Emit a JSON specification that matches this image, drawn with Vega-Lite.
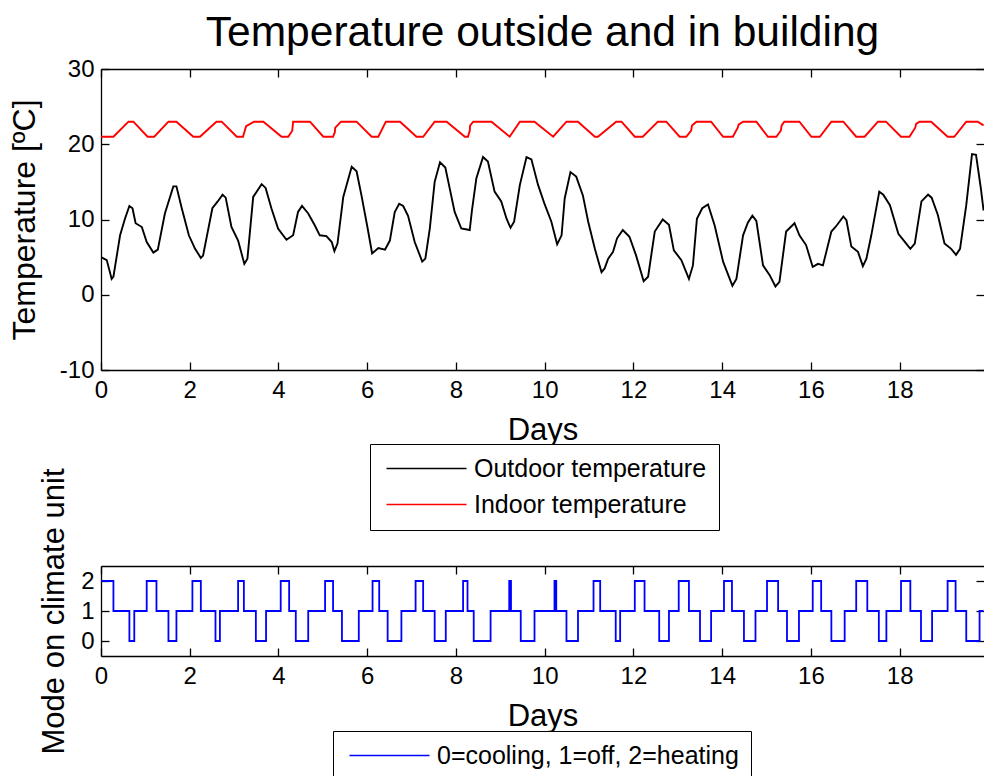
{
  "$schema": "https://vega.github.io/schema/vega-lite/v6.json",
  "padding": {"left": 8, "top": 11, "right": 0, "bottom": 0},
  "spacing": 196,
  "bounds": "flush",
  "resolve": {"scale": {"color": "independent"}, "legend": {"color": "independent"}},
  "config": {
    "view": {"stroke": null},
    "font": "Liberation Sans",
    "axis": {
      "domainColor": "#000000", "tickColor": "#000000", "labelColor": "#000000", "titleColor": "#000000",
      "labelFont": "Liberation Sans", "titleFont": "Liberation Sans", "labelFontSize": 24, "titleFontSize": 31,
      "titleFontWeight": "normal", "grid": false, "domainWidth": 1.3, "tickWidth": 1.3, "minExtent": 0,
      "labelFlush": false, "labelExpr": "replace(datum.label, '\u2212', '-')"
    }
  },
  "datasets": {
    "outdoor": [
      {"d":0,"t":5.0},{"d":0.13,"t":4.6},{"d":0.24,"t":2.1},{"d":0.28,"t":2.4},{"d":0.43,"t":7.9},{"d":0.54,"t":10.1},{"d":0.64,"t":11.8},{"d":0.71,"t":11.5},{"d":0.78,"t":9.5},{"d":0.92,"t":9.0},
      {"d":1.03,"t":7.0},{"d":1.18,"t":5.6},{"d":1.28,"t":6.0},{"d":1.44,"t":10.8},{"d":1.63,"t":14.4},{"d":1.70,"t":14.4},{"d":1.82,"t":11.5},{"d":1.98,"t":7.9},{"d":2.12,"t":6.1},{"d":2.25,"t":4.9},
      {"d":2.30,"t":5.2},{"d":2.51,"t":11.5},{"d":2.63,"t":12.4},{"d":2.74,"t":13.3},{"d":2.81,"t":12.9},{"d":2.94,"t":9.0},{"d":3.09,"t":7.2},{"d":3.23,"t":4.1},{"d":3.30,"t":4.8},{"d":3.43,"t":13.0},
      {"d":3.62,"t":14.7},{"d":3.71,"t":14.2},{"d":3.84,"t":11.5},{"d":3.99,"t":8.8},{"d":4.18,"t":7.3},{"d":4.33,"t":7.9},{"d":4.44,"t":11.0},{"d":4.53,"t":11.8},{"d":4.67,"t":10.8},{"d":4.82,"t":9.2},
      {"d":4.93,"t":7.9},{"d":5.08,"t":7.8},{"d":5.20,"t":7.0},{"d":5.26,"t":5.8},{"d":5.33,"t":6.8},{"d":5.46,"t":13.0},{"d":5.65,"t":17.0},{"d":5.76,"t":16.4},{"d":5.87,"t":13.2},{"d":6.01,"t":8.8},
      {"d":6.11,"t":5.5},{"d":6.25,"t":6.2},{"d":6.40,"t":6.0},{"d":6.51,"t":7.2},{"d":6.62,"t":11.0},{"d":6.72,"t":12.1},{"d":6.81,"t":11.8},{"d":6.92,"t":10.5},{"d":7.07,"t":7.0},{"d":7.24,"t":4.4},
      {"d":7.31,"t":4.8},{"d":7.41,"t":8.8},{"d":7.52,"t":15.0},{"d":7.64,"t":17.6},{"d":7.76,"t":16.9},{"d":7.86,"t":14.1},{"d":7.97,"t":11.0},{"d":8.12,"t":8.8},{"d":8.31,"t":8.6},{"d":8.36,"t":11.2},
      {"d":8.46,"t":15.5},{"d":8.61,"t":18.3},{"d":8.72,"t":17.7},{"d":8.87,"t":13.7},{"d":9.02,"t":12.4},{"d":9.14,"t":10.1},{"d":9.23,"t":8.9},{"d":9.31,"t":9.7},{"d":9.44,"t":14.6},{"d":9.59,"t":18.3},
      {"d":9.70,"t":18.0},{"d":9.85,"t":14.6},{"d":10.0,"t":12.0},{"d":10.15,"t":9.7},{"d":10.28,"t":6.7},{"d":10.38,"t":7.9},{"d":10.45,"t":12.8},{"d":10.58,"t":16.3},{"d":10.71,"t":15.7},{"d":10.86,"t":13.2},
      {"d":10.98,"t":9.7},{"d":11.13,"t":6.1},{"d":11.28,"t":3.0},{"d":11.35,"t":3.5},{"d":11.43,"t":4.8},{"d":11.54,"t":5.7},{"d":11.63,"t":7.5},{"d":11.76,"t":8.6},{"d":11.91,"t":7.7},{"d":12.06,"t":5.2},
      {"d":12.23,"t":1.8},{"d":12.33,"t":2.4},{"d":12.48,"t":8.4},{"d":12.66,"t":10.0},{"d":12.80,"t":9.3},{"d":12.91,"t":5.9},{"d":13.08,"t":4.6},{"d":13.25,"t":2.1},{"d":13.34,"t":3.9},{"d":13.43,"t":10.1},
      {"d":13.55,"t":11.5},{"d":13.68,"t":12.0},{"d":13.83,"t":9.2},{"d":14.02,"t":4.4},{"d":14.23,"t":1.2},{"d":14.32,"t":2.1},{"d":14.47,"t":7.9},{"d":14.58,"t":9.6},{"d":14.68,"t":10.5},{"d":14.77,"t":9.8},
      {"d":14.92,"t":3.9},{"d":15.07,"t":2.6},{"d":15.20,"t":1.1},{"d":15.29,"t":1.7},{"d":15.44,"t":8.4},{"d":15.63,"t":9.5},{"d":15.74,"t":7.9},{"d":15.89,"t":6.6},{"d":16.04,"t":3.7},{"d":16.16,"t":4.1},
      {"d":16.27,"t":3.9},{"d":16.46,"t":8.4},{"d":16.58,"t":9.2},{"d":16.73,"t":10.4},{"d":16.80,"t":9.9},{"d":16.91,"t":6.4},{"d":17.06,"t":5.7},{"d":17.17,"t":3.8},{"d":17.25,"t":4.8},{"d":17.36,"t":7.9},
      {"d":17.54,"t":13.7},{"d":17.63,"t":13.3},{"d":17.78,"t":11.9},{"d":17.97,"t":8.1},{"d":18.12,"t":7.0},{"d":18.24,"t":6.1},{"d":18.34,"t":6.8},{"d":18.49,"t":12.4},{"d":18.64,"t":13.3},{"d":18.72,"t":12.9},
      {"d":18.86,"t":10.6},{"d":19.01,"t":6.8},{"d":19.16,"t":6.1},{"d":19.27,"t":5.3},{"d":19.36,"t":6.1},{"d":19.50,"t":11.9},{"d":19.63,"t":18.7},{"d":19.72,"t":18.6},{"d":19.83,"t":14.1},{"d":19.89,"t":11.2}
    ],
    "indoor": [
      {"d":0,"t":21},{"d":0.28,"t":21},{"d":0.62,"t":23},{"d":0.73,"t":23},{"d":1.05,"t":21},{"d":1.2,"t":21},{"d":1.52,"t":23},{"d":1.7,"t":23},{"d":2.08,"t":21},{"d":2.23,"t":21},
      {"d":2.6,"t":23},{"d":2.72,"t":23},{"d":3.06,"t":21},{"d":3.2,"t":21},{"d":3.25,"t":22},{"d":3.27,"t":22.4},{"d":3.45,"t":23},{"d":3.66,"t":23},{"d":4.07,"t":21},{"d":4.22,"t":21},
      {"d":4.31,"t":21.8},{"d":4.33,"t":23},{"d":4.71,"t":23},{"d":5.01,"t":21},{"d":5.23,"t":21},{"d":5.27,"t":21.6},{"d":5.28,"t":22.2},{"d":5.41,"t":23},{"d":5.76,"t":23},{"d":6.1,"t":21},
      {"d":6.25,"t":21},{"d":6.42,"t":23},{"d":6.74,"t":23},{"d":7.11,"t":21},{"d":7.26,"t":21},{"d":7.52,"t":23},{"d":7.79,"t":23},{"d":8.2,"t":21},{"d":8.27,"t":21},{"d":8.31,"t":21.8},
      {"d":8.32,"t":22.5},{"d":8.39,"t":23},{"d":8.8,"t":23},{"d":9.21,"t":21},{"d":9.44,"t":23},{"d":9.77,"t":23},{"d":10.19,"t":21},{"d":10.49,"t":23},{"d":10.75,"t":23},{"d":11.13,"t":21},
      {"d":11.2,"t":21},{"d":11.61,"t":23},{"d":11.73,"t":23},{"d":12.03,"t":21},{"d":12.21,"t":21},{"d":12.55,"t":23},{"d":12.74,"t":23},{"d":13.04,"t":21},{"d":13.19,"t":21},{"d":13.3,"t":21.8},
      {"d":13.32,"t":22.5},{"d":13.42,"t":23},{"d":13.75,"t":23},{"d":14.02,"t":21},{"d":14.24,"t":21},{"d":14.35,"t":22.2},{"d":14.37,"t":22.6},{"d":14.47,"t":23},{"d":14.77,"t":23},{"d":15.03,"t":21},
      {"d":15.22,"t":21},{"d":15.32,"t":21.8},{"d":15.34,"t":22.5},{"d":15.4,"t":23},{"d":15.74,"t":23},{"d":16.01,"t":21},{"d":16.2,"t":21},{"d":16.46,"t":23},{"d":16.73,"t":23},{"d":17.02,"t":21},
      {"d":17.21,"t":21},{"d":17.51,"t":23},{"d":17.69,"t":23},{"d":18.03,"t":21},{"d":18.22,"t":21},{"d":18.35,"t":22.2},{"d":18.37,"t":22.7},{"d":18.45,"t":23},{"d":18.71,"t":23},{"d":19.08,"t":21},
      {"d":19.23,"t":21},{"d":19.5,"t":23},{"d":19.76,"t":23},{"d":19.89,"t":22.5}
    ],
    "mode": [
      {"d":0,"m":2},{"d":0.28,"m":1},{"d":0.64,"m":0},{"d":0.75,"m":1},{"d":1.03,"m":2},{"d":1.25,"m":1},{"d":1.52,"m":0},{"d":1.70,"m":1},{"d":2.06,"m":2},{"d":2.25,"m":1},
      {"d":2.58,"m":0},{"d":2.68,"m":1},{"d":3.09,"m":2},{"d":3.22,"m":1},{"d":3.49,"m":0},{"d":3.72,"m":1},{"d":4.05,"m":2},{"d":4.24,"m":1},{"d":4.39,"m":0},{"d":4.67,"m":1},
      {"d":5.05,"m":2},{"d":5.23,"m":1},{"d":5.43,"m":0},{"d":5.81,"m":1},{"d":6.12,"m":2},{"d":6.27,"m":1},{"d":6.46,"m":0},{"d":6.77,"m":1},{"d":7.09,"m":2},{"d":7.26,"m":1},
      {"d":7.52,"m":0},{"d":7.77,"m":1},{"d":8.16,"m":2},{"d":8.26,"m":1},{"d":8.40,"m":0},{"d":8.78,"m":1},{"d":9.20,"m":2},{"d":9.24,"m":1},{"d":9.46,"m":0},{"d":9.77,"m":1},
      {"d":10.22,"m":2},{"d":10.26,"m":1},{"d":10.49,"m":0},{"d":10.75,"m":1},{"d":11.10,"m":2},{"d":11.25,"m":1},{"d":11.60,"m":0},{"d":11.70,"m":1},{"d":12.03,"m":2},{"d":12.25,"m":1},
      {"d":12.58,"m":0},{"d":12.80,"m":1},{"d":13.02,"m":2},{"d":13.25,"m":1},{"d":13.50,"m":0},{"d":13.75,"m":1},{"d":14.04,"m":2},{"d":14.22,"m":1},{"d":14.49,"m":0},{"d":14.75,"m":1},
      {"d":15.01,"m":2},{"d":15.26,"m":1},{"d":15.46,"m":0},{"d":15.73,"m":1},{"d":16.04,"m":2},{"d":16.23,"m":1},{"d":16.46,"m":0},{"d":16.76,"m":1},{"d":17.02,"m":2},{"d":17.27,"m":1},
      {"d":17.53,"m":0},{"d":17.70,"m":1},{"d":18.03,"m":2},{"d":18.24,"m":1},{"d":18.48,"m":0},{"d":18.73,"m":1},{"d":19.08,"m":2},{"d":19.26,"m":1},{"d":19.50,"m":0},{"d":19.80,"m":1},
      {"d":19.89,"m":1}
    ]
  },
  "vconcat": [
    {
      "title": {"text": "Temperature outside and in building", "fontSize": 42.5, "font": "Liberation Sans", "fontWeight": "normal", "color": "#000000", "anchor": "middle", "frame": "group", "offset": 3},
      "width": 883,
      "height": 301,
      "resolve": {"axis": {"x": "independent", "y": "independent"}},
      "layer": [
        {
          "data": {"name": "outdoor"},
          "mark": {"type": "line", "strokeWidth": 1.9, "clip": true},
          "encoding": {
            "x": {"field": "d", "type": "quantitative", "scale": {"domain": [0, 19.9], "nice": false, "zero": false},
                  "axis": {"orient": "bottom", "values": [0,2,4,6,8,10,12,14,16,18], "title": "Days", "tickSize": -8, "labelPadding": 16, "titlePadding": 13}},
            "y": {"field": "t", "type": "quantitative", "scale": {"domain": [-10, 30], "nice": false, "zero": false},
                  "axis": {"orient": "left", "values": [-10,0,10,20,30], "title": "Temperature [ºC]", "titleFontSize": 32, "tickSize": -8, "labelPadding": 15, "titlePadding": 18}},
            "color": {"datum": "Outdoor temperature", "type": "nominal",
                      "scale": {"domain": ["Outdoor temperature", "Indoor temperature"], "range": ["#000000", "#ff0000"]},
                      "legend": {"orient": "none", "legendX": 269, "legendY": 375, "title": null, "direction": "vertical",
                                 "symbolType": "M-0.8,0H7.2", "symbolSize": 400, "symbolStrokeWidth": 1.5,
                                 "labelFont": "Liberation Sans", "labelFontSize": 25, "labelColor": "#000000", "labelOffset": 67, "labelLimit": 600,
                                 "padding": 12, "rowPadding": 10, "strokeColor": "#000000", "fillColor": "#ffffff"}}
          }
        },
        {
          "data": {"name": "indoor"},
          "mark": {"type": "line", "strokeWidth": 1.9, "clip": true},
          "encoding": {
            "x": {"field": "d", "type": "quantitative",
                  "axis": {"orient": "top", "values": [0,2,4,6,8,10,12,14,16,18], "title": null, "labels": false, "tickSize": -8}},
            "y": {"field": "t", "type": "quantitative",
                  "axis": {"orient": "right", "values": [-10,0,10,20,30], "title": null, "labels": false, "domain": false, "tickSize": -8}},
            "color": {"datum": "Indoor temperature", "type": "nominal"}
          }
        }
      ]
    },
    {
      "width": 883,
      "height": 90,
      "resolve": {"axis": {"x": "independent", "y": "independent"}},
      "layer": [
        {
          "data": {"name": "mode"},
          "mark": {"type": "line", "interpolate": "step-after", "strokeWidth": 1.8, "clip": true},
          "encoding": {
            "x": {"field": "d", "type": "quantitative", "scale": {"domain": [0, 19.9], "nice": false, "zero": false},
                  "axis": {"orient": "bottom", "values": [0,2,4,6,8,10,12,14,16,18], "title": "Days", "tickSize": -8, "labelPadding": 16, "titlePadding": 13}},
            "y": {"field": "m", "type": "quantitative", "scale": {"domain": [-0.5, 2.5], "nice": false, "zero": false},
                  "axis": {"orient": "left", "values": [0,1,2], "title": "Mode on climate unit", "tickSize": -8, "labelPadding": 15, "titlePadding": 10}},
            "color": {"datum": "0=cooling, 1=off, 2=heating", "type": "nominal",
                      "scale": {"domain": ["0=cooling, 1=off, 2=heating"], "range": ["#0000ff"]},
                      "legend": {"orient": "none", "legendX": 232, "legendY": 165, "title": null, "direction": "vertical",
                                 "symbolType": "M-0.8,0H7.2", "symbolSize": 400, "symbolStrokeWidth": 1.5,
                                 "labelFont": "Liberation Sans", "labelFontSize": 25, "labelColor": "#000000", "labelOffset": 67, "labelLimit": 600,
                                 "padding": 12, "strokeColor": "#000000", "fillColor": "#ffffff"}}
          }
        },
        {
          "data": {"values": []},
          "mark": {"type": "point"},
          "encoding": {
            "x": {"field": "d", "type": "quantitative",
                  "axis": {"orient": "top", "values": [0,2,4,6,8,10,12,14,16,18], "title": null, "labels": false, "tickSize": -8}},
            "y": {"field": "m", "type": "quantitative",
                  "axis": {"orient": "right", "values": [0,1,2], "title": null, "labels": false, "domain": false, "tickSize": -8}}
          }
        }
      ]
    }
  ]
}
